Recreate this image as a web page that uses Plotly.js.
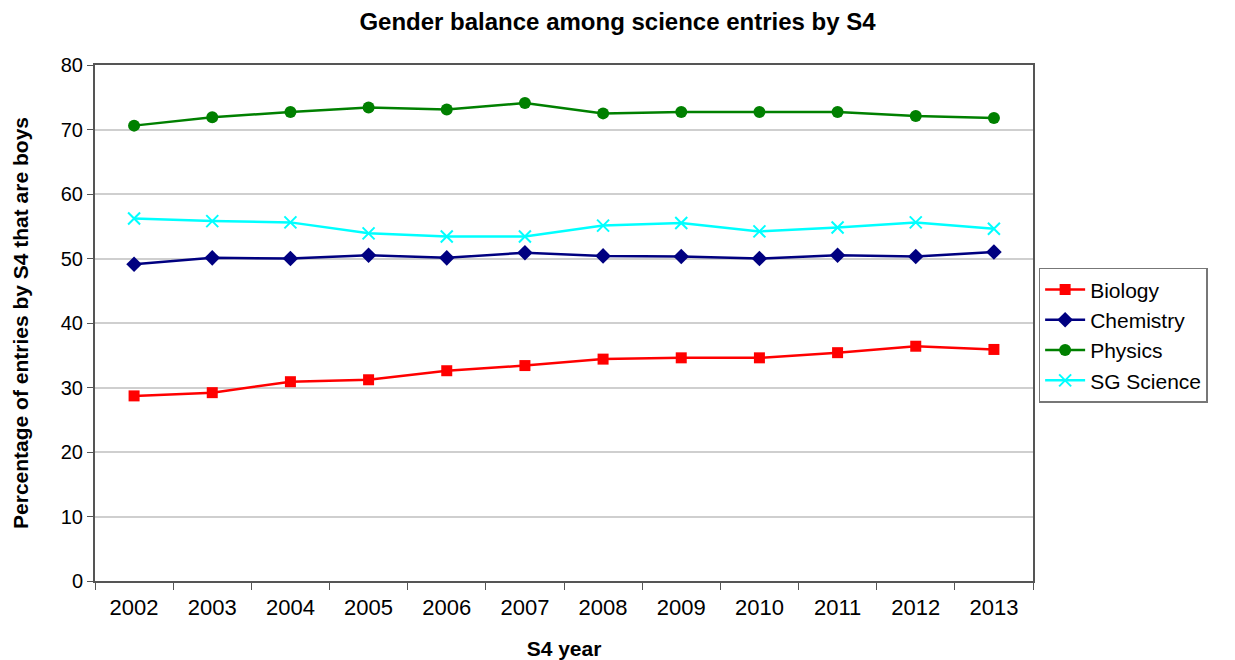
<!DOCTYPE html>
<html>
<head>
<meta charset="utf-8">
<script src="https://cdn.plot.ly/plotly-3.0.1.min.js"></script>
<style>html,body{margin:0;padding:0;background:#fff;}#chart{width:1235px;height:660px;}</style>
</head>
<body>
<div id="chart"></div>
<script>
const years = ['2002','2003','2004','2005','2006','2007','2008','2009','2010','2011','2012','2013'];
const biology = [28.7, 29.2, 30.9, 31.2, 32.6, 33.4, 34.4, 34.6, 34.6, 35.4, 36.4, 35.9];
const chemistry = [49.1, 50.1, 50.0, 50.5, 50.1, 50.9, 50.4, 50.3, 50.0, 50.5, 50.3, 51.0];
const physics = [70.6, 71.9, 72.7, 73.4, 73.1, 74.1, 72.5, 72.7, 72.7, 72.7, 72.1, 71.8];
const sgScience = [56.2, 55.8, 55.6, 53.9, 53.4, 53.4, 55.1, 55.5, 54.2, 54.8, 55.6, 54.6];
const yTicks = [0, 10, 20, 30, 40, 50, 60, 70, 80];

const traces = [
  {name:'Biology', x:years, y:biology, mode:'lines+markers', line:{color:'#ff0000', width:2.5}, marker:{symbol:'square', size:11, color:'#ff0000'}},
  {name:'Chemistry', x:years, y:chemistry, mode:'lines+markers', line:{color:'#000080', width:2.5}, marker:{symbol:'diamond', size:12, color:'#000080'}},
  {name:'Physics', x:years, y:physics, mode:'lines+markers', line:{color:'#008000', width:2.5}, marker:{symbol:'circle', size:12, color:'#008000'}},
  {name:'SG Science', x:years, y:sgScience, mode:'lines+markers', line:{color:'#00ffff', width:2.5}, marker:{symbol:'x-thin', size:12, line:{color:'#00ffff', width:2}, color:'#00ffff'}}
];

const layout = {
  width:1235, height:660,
  margin:{l:95, r:202, t:65, b:79},
  paper_bgcolor:'#ffffff', plot_bgcolor:'#ffffff',
  font:{family:'Liberation Sans, Arial, sans-serif', size:20, color:'#000'},
  title:{text:'<b>Gender balance among science entries by S4</b>', x:0.5, xanchor:'center', y:0.967, yanchor:'middle', font:{size:24, color:'#000'}},
  xaxis:{
    type:'category', range:[-0.5, 11.5], tickson:'boundaries', ticks:'outside', ticklen:7, tickcolor:'#555', tickwidth:1,
    showline:true, linecolor:'#555', linewidth:2, mirror:true, showgrid:false,
    tickfont:{size:22}, zeroline:false, ticklabelstandoff:6,
    title:{text:'<b>S4 year</b>', font:{size:21}, standoff:24}
  },
  yaxis:{
    range:[0,80], tickvals:yTicks, ticktext:yTicks.map(String), ticks:'outside', ticklen:6, tickcolor:'#555',
    showline:true, linecolor:'#555', linewidth:2, mirror:true,
    showgrid:true, gridcolor:'#cfcfcf', gridwidth:2, zeroline:false,
    tickfont:{size:20},
    title:{text:'<b>Percentage of entries by S4 that are boys</b>', font:{size:21}, standoff:26}
  },
  legend:{x:1.006, xanchor:'left', y:0.607, yanchor:'top', bordercolor:'#777', borderwidth:1.5, bgcolor:'#fff', font:{size:21}, tracegroupgap:0, itemwidth:40},
  showlegend:true
};
Plotly.newPlot('chart', traces, layout, {displayModeBar:false, staticPlot:true});
</script>
</body>
</html>
